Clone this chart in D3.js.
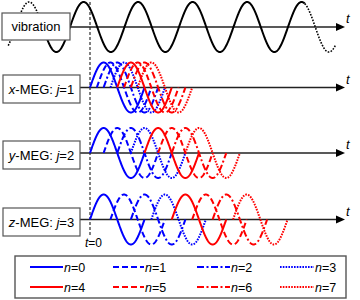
<!DOCTYPE html>
<html><head><meta charset="utf-8">
<script src="https://cdn.jsdelivr.net/npm/d3@7"></script>
<style>body{margin:0;background:#fff}svg{display:block}</style></head>
<body><svg id="c" width="360" height="300"></svg>
<script>
// ---- data (time in units of one vibration period; t=0 at dashed line) ----
const panelNames = ["vibration", "x-MEG", "y-MEG", "z-MEG"];
const panelAxes = ["", "x", "y", "z"];
const panelJ = [null, 1, 2, 3];
const nValues = [0, 1, 2, 3, 4, 5, 6, 7];
// onset delay (periods) of each n-wave, per MEG panel
const delaysJ1 = [0, 0.125, 0.25, 0.375, 0.5, 0.625, 0.75, 0.875];
const delaysJ2 = [0, 0.25, 0.5, 0.75, 1.0, 1.25, 1.5, 1.75];
const delaysJ3 = [0, 0.375, 0.75, 1.125, 1.5, 1.875, 2.25, 2.625];
const delays = [delaysJ1, delaysJ2, delaysJ3];
// vibration: phase offset and drawn segments [t0, t1, dotted?]
const vibPhase = 0.367;
const vibSegments = [[-1.5, -0.92, true], [-0.92, 3.94, false], [3.94, 4.5, true]];

// ---- layout ----
const svg = d3.select("#c");
const x = d3.scaleLinear().domain([0, 1]).range([90, 144.5]);
const axisY = [27, 87.5, 153, 219.5];
const amp = 25;
const yScales = axisY.map(a => d3.scaleLinear().domain([-1, 1]).range([a + amp, a - amp]));
const blue = "#0000ff", red = "#ff0000";
const dashes = [null, "6,3", "7,2.5,2,2.5", "1.6,1.2"];
const font = "'Liberation Sans', Arial, sans-serif";

function wave(ys, phase, t0, t1) {
  const ts = d3.range(t0, t1, 0.005).concat([t1]);
  return d3.line().x(t => x(t)).y(t => ys(Math.sin(2 * Math.PI * (t + phase))))(ts);
}

// vertical dashed t=0 line
svg.append("line").attr("x1", x(0)).attr("x2", x(0)).attr("y1", 2).attr("y2", 236)
  .attr("stroke", "#000").attr("stroke-width", 1).attr("stroke-dasharray", "3,2");

// axes
const boxRight = [70, 80, 80, 80];
axisY.forEach((a, i) => {
  svg.append("line").attr("x1", boxRight[i]).attr("x2", 338).attr("y1", a).attr("y2", a)
    .attr("stroke", "#222").attr("stroke-width", 1.5);
  svg.append("path").attr("d", `M345,${a} L336,${a - 4} L336,${a + 4} Z`).attr("fill", "#000");
  svg.append("text").attr("x", 346).attr("y", a - 4).attr("font-family", font)
    .attr("font-size", 13).attr("font-style", "italic").text("t");
});

// vibration curve
vibSegments.forEach(s => {
  svg.append("path").attr("d", wave(yScales[0], vibPhase, s[0], s[1]))
    .attr("fill", "none").attr("stroke", "#000")
    .attr("stroke-width", s[2] ? 1.6 : 2)
    .attr("stroke-dasharray", s[2] ? "1.6,1.4" : null);
});

// MEG waves
delays.forEach((dl, pi) => {
  const ys = yScales[pi + 1];
  nValues.forEach(n => {
    const d = dl[n];
    svg.append("path").attr("d", wave(ys, -d, d, d + 1))
      .attr("fill", "none").attr("stroke", n < 4 ? blue : red)
      .attr("stroke-width", 2).attr("stroke-dasharray", dashes[n % 4]);
  });
});

// label boxes
const boxes = [[2, 13, 68, 27], [3, 75, 77, 28], [3, 141, 77, 28], [3, 208, 77, 28]];
boxes.forEach((b, i) => {
  svg.append("rect").attr("x", b[0]).attr("y", b[1]).attr("width", b[2]).attr("height", b[3])
    .attr("fill", "#fff").attr("stroke", "#555").attr("stroke-width", 1.2);
  const t = svg.append("text").attr("x", b[0] + b[2] / 2).attr("y", b[1] + b[3] / 2 + 4.5)
    .attr("text-anchor", "middle").attr("font-family", font).attr("font-size", 13);
  if (i === 0) t.text(panelNames[0]);
  else {
    t.append("tspan").attr("font-style", "italic").text(panelAxes[i]);
    t.append("tspan").text("-MEG: ");
    t.append("tspan").attr("font-style", "italic").text("j");
    t.append("tspan").text("=" + panelJ[i]);
  }
});

// t=0 label
const t0 = svg.append("text").attr("x", 85).attr("y", 247).attr("font-family", font).attr("font-size", 12);
t0.append("tspan").attr("font-style", "italic").text("t");
t0.append("tspan").text("=0");

// legend
svg.append("rect").attr("x", 15).attr("y", 256).attr("width", 331).attr("height", 42)
  .attr("fill", "#fff").attr("stroke", "#555").attr("stroke-width", 1.4);
const colX = [[30, 63], [113, 144], [197, 230], [280, 314]];
const rowY = [267, 287];
nValues.forEach(n => {
  const c = colX[n % 4], r = rowY[Math.floor(n / 4)];
  svg.append("line").attr("x1", c[0]).attr("x2", c[1]).attr("y1", r).attr("y2", r)
    .attr("stroke", n < 4 ? blue : red).attr("stroke-width", 2).attr("stroke-dasharray", dashes[n % 4]);
  const t = svg.append("text").attr("x", c[1] + 1).attr("y", r + 4.5)
    .attr("font-family", font).attr("font-size", 12.5);
  t.append("tspan").attr("font-style", "italic").text("n");
  t.append("tspan").text("=" + n);
});
</script></body></html>
